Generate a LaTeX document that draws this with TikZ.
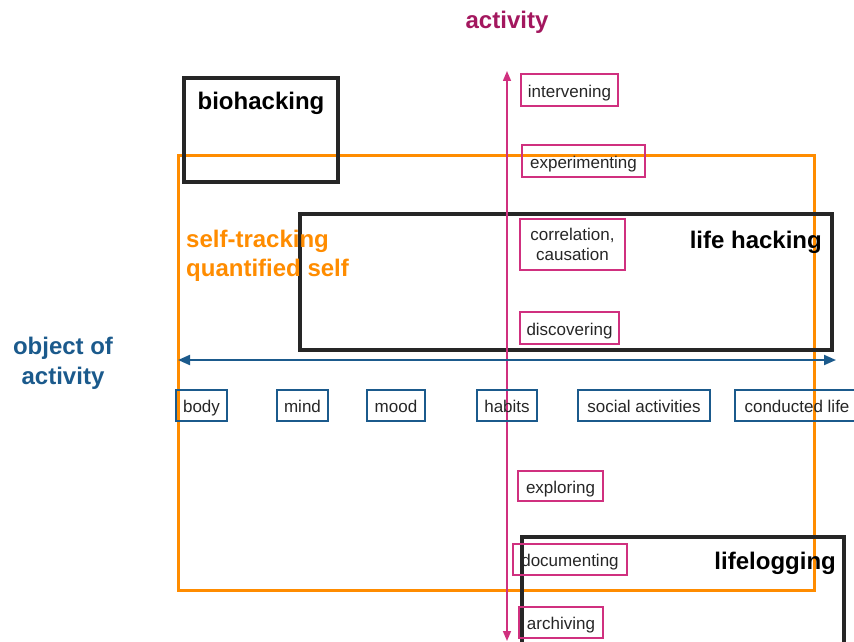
\documentclass[tikz,border=0pt]{standalone}
\usepackage{fontspec}
\setmainfont{Liberation Sans}
\usetikzlibrary{arrows.meta}
\definecolor{actpink}{HTML}{D0307F}
\definecolor{acttitle}{HTML}{A3175E}
\definecolor{objblue}{HTML}{1B5A8C}
\definecolor{qsorange}{HTML}{FF8C00}
\tikzset{
  smalltext/.style={font=\fontsize{17}{20}\selectfont, text=black!85, inner sep=0pt},
  oneline/.style={text height=14pt, text depth=0pt},
  pinkbox/.style={draw=actpink, line width=2pt, smalltext},
  bluebox/.style={draw=objblue, line width=2pt, minimum height=31pt, smalltext, oneline},
  bigbox/.style={draw=black!85, line width=3.5pt, inner sep=0pt},
  boldlabel/.style={font=\fontsize{24}{28}\selectfont\bfseries, inner sep=0pt},
}
\begin{document}
\begin{tikzpicture}[x=1pt,y=-1pt]
\useasboundingbox (0,0) rectangle (854,642);
% big boxes
\node[draw=qsorange, line width=3pt, minimum width=636pt, minimum height=435pt, inner sep=0pt] (qs) at (496,372.5) {};
\node[bigbox, minimum width=154pt, minimum height=104pt] (bio) at (261,130) {};
\node[bigbox, minimum width=532pt, minimum height=136pt] (lh) at (566,282) {};
\node[bigbox, minimum width=322pt, minimum height=110pt] (ll) at (683,592) {};
% labels of areas
\node[boldlabel] (biot) at (261,103) {biohacking};
\node[boldlabel, anchor=east] (lht) at (822,242) {life hacking};
\node[boldlabel, anchor=east] (llt) at (836,563) {lifelogging};
\node[boldlabel, text=qsorange, anchor=west] (st) at (186,241) {self-tracking};
\node[boldlabel, text=qsorange, anchor=west] (qst) at (186,270) {quantified self};
% axes titles
\node[boldlabel, text=acttitle] (act) at (507,22) {activity};
\node[boldlabel, text=objblue, align=center] (obj) at (63,363) {object of\\[2pt]activity};
% axes
\coordinate (vtop) at (507,71);
\coordinate (vbot) at (507,641);
\coordinate (hl) at (178,360);
\coordinate (hr) at (836,360);
\draw[actpink, line width=1.5pt, {Triangle[length=10pt,width=8pt]}-{Triangle[length=10pt,width=8pt]}] (vbot) -- (vtop);
\draw[objblue, line width=2pt, {Triangle[length=12pt,width=10pt]}-{Triangle[length=12pt,width=10pt]}] (hl) -- (hr);
% activity boxes
\node[pinkbox, oneline, minimum width=97pt, minimum height=32pt] (interv) at (569.5,90) {intervening};
\node[pinkbox, oneline, minimum width=123pt, minimum height=32pt] (exper) at (583.5,161) {experimenting};
\node[pinkbox, minimum width=105pt, minimum height=51pt, align=center] (corr) at (572.5,244) {correlation,\\causation};
\node[pinkbox, oneline, minimum width=99pt, minimum height=32pt] (disc) at (569.5,328) {discovering};
\node[pinkbox, oneline, minimum width=85pt, minimum height=30pt] (expl) at (560.5,486) {exploring};
\node[pinkbox, oneline, minimum width=114pt, minimum height=31pt] (docu) at (570,559.5) {documenting};
\node[pinkbox, oneline, minimum width=84pt, minimum height=31pt] (arch) at (561,622.5) {archiving};
% object boxes
\node[bluebox, minimum width=51pt] (body) at (201.5,405.5) {body};
\node[bluebox, minimum width=51pt] (mind) at (302.5,405.5) {mind};
\node[bluebox, minimum width=58pt] (mood) at (396,405.5) {mood};
\node[bluebox, minimum width=60pt] (habits) at (507,405.5) {habits};
\node[bluebox, minimum width=132pt] (social) at (644,405.5) {social activities};
\node[bluebox, minimum width=124pt] (life) at (797,405.5) {conducted life};
\end{tikzpicture}
\end{document}
